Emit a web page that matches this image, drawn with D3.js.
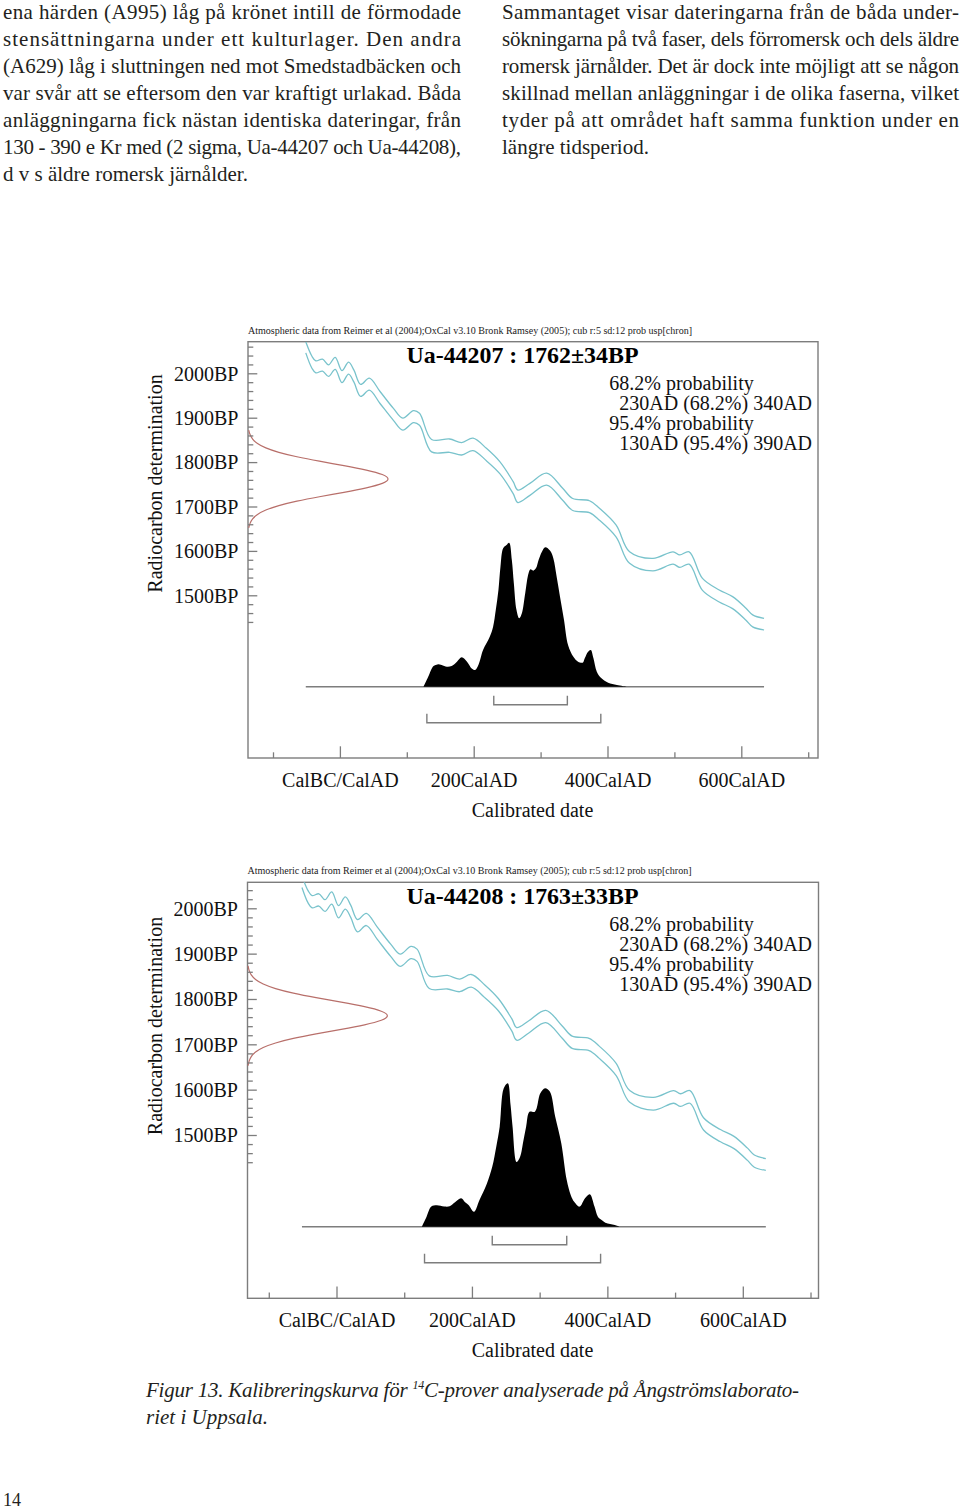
<!DOCTYPE html>
<html><head><meta charset="utf-8">
<script src="https://cdn.jsdelivr.net/npm/d3@7"></script>
<style>html,body{margin:0;padding:0;background:#fff;} svg{display:block;}</style>
</head><body>
<svg id="page" width="960" height="1511"></svg>
<script>
// ---------------- DATA ----------------
const leftColumnLines = [
  "ena härden (A995) låg på krönet intill de förmodade",
  "stensättningarna under ett kulturlager. Den andra",
  "(A629) låg i sluttningen ned mot Smedstadbäcken och",
  "var svår att se eftersom den var kraftigt urlakad. Båda",
  "anläggningarna fick nästan identiska dateringar, från",
  "130 - 390 e Kr med (2 sigma, Ua-44207 och Ua-44208),",
  "d v s äldre romersk järnålder."
];
const rightColumnLines = [
  "Sammantaget visar dateringarna från de båda under-",
  "sökningarna på två faser, dels förromersk och dels äldre",
  "romersk järnålder. Det är dock inte möjligt att se någon",
  "skillnad mellan anläggningar i de olika faserna, vilket",
  "tyder på att området haft samma funktion under en",
  "längre tidsperiod."
];
const headerText = "Atmospheric data from Reimer et al (2004);OxCal v3.10 Bronk Ramsey (2005); cub r:5 sd:12 prob usp[chron]";
const sampleIds = ["Ua-44207", "Ua-44208"];
const sampleBP = [1762, 1763];
const sampleErr = [34, 33];
const prob68Labels = ["230AD (68.2%) 340AD", "230AD (68.2%) 340AD"];
const prob95Labels = ["130AD (95.4%) 390AD", "130AD (95.4%) 390AD"];
const range68 = [[230, 340], [230, 340]];
const range95 = [[130, 390], [130, 390]];

const bpTickValues = [2000, 1900, 1800, 1700, 1600, 1500];
const calTickValues = [0, 200, 400, 600];
const calTickLabels = ["CalBC/CalAD", "200CalAD", "400CalAD", "600CalAD"];
const calMinorTicks = [-100, 100, 300, 500, 700];

// calibration curve (IntCal04 envelope)
const calYears = [-51,-42,-36,-26,-17,-7,3,13,21,31,44,60,80,94,110,119,137,164,182,199,219,239,259,266,284,309,333,348,373,388,413,433,468,498,508,522,542,567,587,607,617,634];
const calUpperBP = [2071,2039,2028,2032,2019,2036,2006,2025,2007,1975,1989,1959,1921,1899,1916,1910,1851,1852,1844,1854,1831,1801,1756,1737,1752,1775,1741,1718,1713,1696,1658,1598,1583,1598,1591,1598,1538,1512,1497,1471,1456,1448];
const calLowerBP = [2046,2012,2001,2005,1993,2009,1979,1998,1980,1948,1962,1932,1894,1872,1889,1883,1823,1822,1816,1826,1803,1774,1729,1709,1725,1748,1714,1691,1686,1669,1631,1572,1555,1570,1563,1570,1511,1485,1470,1444,1429,1422];

// radiocarbon measurement densities (relative) on BP axis
const meas1BP = [1652,1662,1672,1682,1692,1702,1712,1722,1732,1742,1752,1762,1772,1782,1792,1802,1812,1822,1832,1842,1852,1862,1872];
const meas1Dens = [0.005,0.013,0.03,0.063,0.12,0.211,0.339,0.5,0.678,0.841,0.958,1,0.958,0.841,0.678,0.5,0.339,0.211,0.12,0.063,0.03,0.013,0.005];
const meas2BP = [1653,1663,1673,1683,1693,1703,1713,1723,1733,1743,1753,1763,1773,1783,1793,1803,1813,1823,1833,1843,1853,1863,1873];
const meas2Dens = [0.004,0.01,0.024,0.053,0.105,0.191,0.317,0.48,0.662,0.832,0.955,1,0.955,0.832,0.662,0.48,0.317,0.191,0.105,0.053,0.024,0.01,0.004];

// calibrated probability distributions (relative)
const dist1Years = [125,132,140,146,152,160,167,175,182,190,197,202,207,214,224,229,233,237,240,244,249,253,257,260,264,268,272,277,282,285,289,293,297,302,307,314,319,324,329,335,341,349,356,363,366,371,375,379,384,391,401,414,429];
const dist1Prob = [0,0.069,0.144,0.155,0.151,0.139,0.144,0.174,0.204,0.174,0.127,0.116,0.151,0.255,0.347,0.417,0.532,0.671,0.833,0.961,0.984,1.0,0.88,0.718,0.532,0.475,0.51,0.649,0.788,0.815,0.806,0.822,0.88,0.938,0.968,0.945,0.892,0.764,0.625,0.463,0.29,0.208,0.174,0.167,0.197,0.243,0.255,0.197,0.104,0.058,0.028,0.012,0];
const dist2Years = [126,133,140,148,159,167,175,184,190,195,203,211,222,230,236,241,247,253,257,260,266,271,276,280,285,293,301,308,315,323,332,340,346,351,359,367,374,381,386,392,397,404,411,418];
const dist2Prob = [0,0.07,0.14,0.149,0.14,0.142,0.17,0.198,0.17,0.151,0.104,0.185,0.3,0.418,0.56,0.697,0.965,1.0,0.85,0.697,0.451,0.486,0.6,0.697,0.802,0.802,0.93,0.965,0.942,0.767,0.581,0.325,0.22,0.174,0.14,0.198,0.226,0.14,0.07,0.045,0.028,0.018,0.012,0];

const captionMain = "Figur 13. Kalibreringskurva för ";
const captionSup = "14";
const captionRest = "C-prover analyserade på Ångströmslaborato-";
const captionLine2 = "riet i Uppsala.";
const pageNumber = "14";

// ---------------- LAYOUT ----------------
const svg = d3.select("#page");
svg.append("rect").attr("width", 960).attr("height", 1511).attr("fill", "#fff");
const SERIF = "'Liberation Serif','Times New Roman',serif";

function column(lines, x, w, y0, lh) {
  const g = svg.append("g").attr("font-family", SERIF).attr("font-size", 21).attr("fill", "#231f20");
  lines.forEach((t, i) => {
    const tx = g.append("text").attr("x", x).attr("y", y0 + i * lh).text(t);
    if (i < lines.length - 1) tx.attr("textLength", w).attr("lengthAdjust", "spacing");
  });
}
column(leftColumnLines, 3, 458, 18.5, 27);
column(rightColumnLines, 502, 457, 18.5, 27);

const measBP = [meas1BP, meas2BP], measDens = [meas1Dens, meas2Dens];
const distYears = [dist1Years, dist2Years], distProb = [dist1Prob, dist2Prob];

const cfgs = [
  {L: 248, T: 341.7, R: 818, B: 758, x0: 339.9, x600: 741.3, y2000: 373.3, y1500: 595.3, base: 686.7, distH: 144, gaussW: 142, rcY: 483.5},
  {L: 247.5, T: 882.3, R: 818.5, B: 1298.3, x0: 336.5, x600: 742.8, y2000: 908.3, y1500: 1135, base: 1226.7, distH: 143.4, gaussW: 142, rcY: 1026}
];

const GRAY = "#7d7d7d";

cfgs.forEach((c, k) => {
  const g = svg.append("g");
  const x = d3.scaleLinear().domain([0, 600]).range([c.x0, c.x600]);
  const y = d3.scaleLinear().domain([2000, 1500]).range([c.y2000, c.y1500]);
  const clipId = "clip" + k;
  g.append("clipPath").attr("id", clipId).append("rect")
    .attr("x", c.L).attr("y", c.T).attr("width", c.R - c.L).attr("height", c.B - c.T);

  // header
  g.append("text").attr("x", c.L).attr("y", c.T - 8).attr("font-family", SERIF)
    .attr("font-size", 10).attr("fill", "#222").attr("textLength", 444)
    .attr("lengthAdjust", "spacingAndGlyphs").text(headerText);

  // frame
  g.append("rect").attr("x", c.L).attr("y", c.T).attr("width", c.R - c.L).attr("height", c.B - c.T)
    .attr("fill", "none").attr("stroke", GRAY).attr("stroke-width", 1.4);

  // calibration curve
  const curveG = g.append("g").attr("clip-path", `url(#${clipId})`);
  [calUpperBP, calLowerBP].forEach(arr => {
    curveG.append("path")
      .attr("d", d3.line().x((d, i) => x(calYears[i])).y(d => y(d)).curve(d3.curveCatmullRom)(arr))
      .attr("fill", "none").attr("stroke", "#79c3cc").attr("stroke-width", 1.3);
  });

  // measurement gaussian on y axis
  const gw = d3.scaleLinear().domain([0, 1]).range([c.L, c.L + c.gaussW]);
  g.append("path")
    .attr("d", d3.line().x(d => gw(d)).y((d, i) => y(measBP[k][i])).curve(d3.curveBasis)(measDens[k]))
    .attr("fill", "none").attr("stroke", "#b86f6a").attr("stroke-width", 1.2);

  // baseline
  g.append("line").attr("x1", x(calYears[0])).attr("x2", x(calYears[calYears.length - 1]))
    .attr("y1", c.base).attr("y2", c.base).attr("stroke", GRAY).attr("stroke-width", 1.4);

  // distribution
  const ph = d3.scaleLinear().domain([0, 1]).range([c.base, c.base - c.distH]);
  g.append("path")
    .attr("d", d3.area().x((d, i) => x(distYears[k][i])).y0(c.base).y1(d => ph(d)).curve(d3.curveCatmullRom)(distProb[k]))
    .attr("fill", "#000");

  // brackets
  [[range68[k], 18], [range95[k], 36]].forEach(([r, off]) => {
    const yy = c.base + off;
    g.append("path")
      .attr("d", `M${x(r[0])},${yy - 9}V${yy}H${x(r[1])}V${yy - 9}`)
      .attr("fill", "none").attr("stroke", GRAY).attr("stroke-width", 1.4);
  });

  // y axis ticks
  const topBP = y.invert(c.T + 3);
  const minorBP = d3.range(1440, topBP, 20).filter(v => v % 100 !== 0);
  const yAxMinor = d3.axisLeft(y).tickValues(minorBP).tickSize(-5.3).tickFormat("");
  const yAxMajor = d3.axisLeft(y).tickValues(bpTickValues).tickSize(-9.3).tickPadding(9.5).tickFormat(d => d + "BP");
  [yAxMinor, yAxMajor].forEach(ax => {
    const a = g.append("g").attr("transform", `translate(${c.L},0)`).call(ax);
    a.select(".domain").remove();
    a.selectAll("line").attr("stroke", GRAY).attr("stroke-width", 1.3);
    a.selectAll("text").attr("font-family", SERIF).attr("font-size", 20).attr("fill", "#111").attr("dy", "0.34em");
  });

  // x axis ticks
  const xAxMinor = d3.axisBottom(x).tickValues(calMinorTicks).tickSize(-5.7).tickFormat("");
  const xAxMajor = d3.axisBottom(x).tickValues(calTickValues).tickSize(-11.7).tickFormat((d, i) => calTickLabels[i]);
  [xAxMinor, xAxMajor].forEach(ax => {
    const a = g.append("g").attr("transform", `translate(0,${c.B})`).call(ax);
    a.select(".domain").remove();
    a.selectAll("line").attr("stroke", GRAY).attr("stroke-width", 1.3);
    a.selectAll("text").attr("font-family", SERIF).attr("font-size", 20).attr("fill", "#111")
      .attr("y", 28.7).attr("dy", 0);
  });

  // axis titles
  g.append("text").attr("x", (c.L + c.R) / 2 - 0.5).attr("y", c.B + 59).attr("text-anchor", "middle")
    .attr("font-family", SERIF).attr("font-size", 20).attr("fill", "#111").text("Calibrated date");
  g.append("text").attr("transform", `translate(162,${c.rcY}) rotate(-90)`).attr("text-anchor", "middle")
    .attr("font-family", SERIF).attr("font-size", 20).attr("fill", "#111").text("Radiocarbon determination");

  // title
  g.append("text").attr("x", 522.5).attr("y", c.T + 21.6).attr("text-anchor", "middle")
    .attr("font-family", SERIF).attr("font-weight", "bold").attr("font-size", 23.5).attr("fill", "#000")
    .attr("textLength", 232).attr("lengthAdjust", "spacingAndGlyphs")
    .text(`${sampleIds[k]} : ${sampleBP[k]}±${sampleErr[k]}BP`);

  // probability text
  const pt = g.append("g").attr("font-family", SERIF).attr("font-size", 20).attr("fill", "#111");
  pt.append("text").attr("x", 609.3).attr("y", c.T + 48.3).text("68.2% probability");
  pt.append("text").attr("x", 619.3).attr("y", c.T + 68.3).text(prob68Labels[k]);
  pt.append("text").attr("x", 609.3).attr("y", c.T + 88.3).text("95.4% probability");
  pt.append("text").attr("x", 619.3).attr("y", c.T + 108.3).text(prob95Labels[k]);
});

// caption
const cap = svg.append("g").attr("font-family", SERIF).attr("font-style", "italic").attr("font-size", 21).attr("fill", "#231f20");
const c1 = cap.append("text").attr("x", 146).attr("y", 1397).attr("textLength", 653).attr("lengthAdjust", "spacing");
c1.append("tspan").text(captionMain);
c1.append("tspan").attr("font-size", 12).attr("dy", -8).text(captionSup);
c1.append("tspan").attr("dy", 8).text(captionRest);
cap.append("text").attr("x", 146).attr("y", 1424).text(captionLine2);

// page number
svg.append("text").attr("x", 3).attr("y", 1506).attr("font-family", SERIF).attr("font-size", 18)
  .attr("fill", "#231f20").text(pageNumber);
</script>
</body></html>
